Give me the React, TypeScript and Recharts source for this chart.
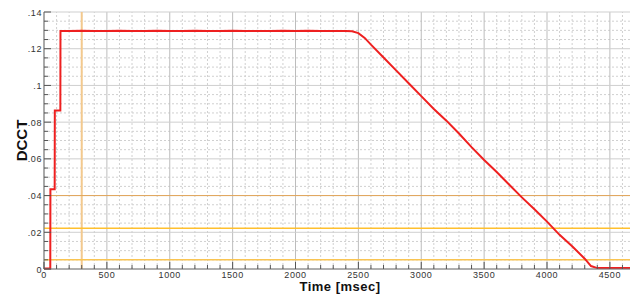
import { LineChart, Line, XAxis, YAxis, ReferenceLine } from 'recharts';

// DCCT trace (time in msec)
const timeMs = [
  0, 50, 51, 85, 86, 130, 131, 200, 300, 400, 500, 600, 700, 800, 900, 1000,
  1100, 1200, 1300, 1400, 1500, 1600, 1700, 1800, 1900, 2000, 2100, 2200, 2300,
  2400, 2450, 2500, 2550, 2600, 2700, 2800, 2900, 3000, 3100, 3200, 3300, 3400,
  3500, 3600, 3700, 3800, 3900, 4000, 4100, 4200, 4300, 4350, 4400, 4500, 4600, 4660,
];
const dcct = [
  0.0003, 0.0003, 0.0434, 0.0434, 0.0863, 0.0863, 0.1297, 0.1296, 0.1298, 0.1296,
  0.1297, 0.1298, 0.1296, 0.1297, 0.1298, 0.1296, 0.1297, 0.1298, 0.1297, 0.1296,
  0.1298, 0.1297, 0.1296, 0.1297, 0.1298, 0.1297, 0.1298, 0.1296, 0.1297, 0.1297,
  0.1295, 0.1285, 0.1259, 0.1222, 0.1152, 0.1082, 0.1012, 0.0942, 0.0872, 0.0808,
  0.0738, 0.0664, 0.0594, 0.0528, 0.0459, 0.039, 0.0325, 0.0258, 0.0186, 0.0124,
  0.0056, 0.0016, 0.0005, 0.0005, 0.0006, 0.0005,
];

const xMajorTicks = [0, 500, 1000, 1500, 2000, 2500, 3000, 3500, 4000, 4500];
const yMajorTicks = [0, 0.02, 0.04, 0.06, 0.08, 0.1, 0.12, 0.14];
const yTickLabels = ['0', '.02', '.04', '.06', '.08', '.1', '.12', '.14'];

// orange marker lines
const markerTimes = [300];
const markerLevels = [0.04, 0.0222, 0.005];
const markerColors = ['#e3a65a', '#ffc02e', '#f9c452'];

const X_MAX = 4660;
const xMinorTicks = Array.from({ length: 47 }, (_, i) => i * 100);
const yMinorTicks = Array.from({ length: 29 }, (_, i) => +(i * 0.005).toFixed(3));

const data = timeMs.map((t, i) => ({ t, v: dcct[i] }));

const FONT = 'Liberation Sans, Arial, sans-serif';
const tickFont = { fontFamily: FONT, fontSize: 9, fill: '#333', letterSpacing: 0.6 };
const isMajorX = (v: number) => v % 500 === 0;
const isMajorY = (v: number) => yMajorTicks.some((m) => Math.abs(m - v) < 1e-6);

const BottomTick = ({ x, y, payload }: any) => {
  const major = isMajorX(payload.value);
  return (
    <g>
      <line x1={x} x2={x} y1={y} y2={y - (major ? 7 : 4)} stroke="#555" />
      {major && (
        <text x={x} y={y + 8.5} textAnchor="middle" {...tickFont}>
          {payload.value}
        </text>
      )}
    </g>
  );
};

const TopTick = ({ x, y, payload }: any) => (
  <line x1={x} x2={x} y1={y} y2={y + (isMajorX(payload.value) ? 7 : 4)} stroke="#555" />
);

const LeftTick = ({ x, y, payload }: any) => {
  const major = isMajorY(payload.value);
  const idx = yMajorTicks.findIndex((m) => Math.abs(m - payload.value) < 1e-6);
  return (
    <g>
      <line x1={x} x2={x + (major ? 7 : 4)} y1={y} y2={y} stroke="#555" />
      {major && (
        <text x={x - 2} y={y + 3.5} textAnchor="end" {...tickFont}>
          {yTickLabels[idx]}
        </text>
      )}
    </g>
  );
};

const RightTick = ({ x, y, payload }: any) => (
  <line x1={x} x2={x - (isMajorY(payload.value) ? 8 : 4)} y1={y} y2={y} stroke="#555" />
);

const TimeLabel = ({ viewBox }: any) => (
  <text
    x={viewBox.x + viewBox.width / 2 + 3}
    y={viewBox.y + 21.5}
    textAnchor="middle"
    fontFamily={FONT}
    fontSize={13}
    fontWeight="bold"
    letterSpacing={0.5}
    fill="#111"
  >
    Time [msec]
  </text>
);

export default function App() {
  return (
    <div style={{ position: 'absolute', left: 0, top: 0, background: '#fff' }}>
      <LineChart width={630} height={294} data={data} margin={{ top: 12, right: 0, bottom: 0, left: 0 }}>
        {/* minor dotted grid */}
        {xMinorTicks.filter((v) => !isMajorX(v)).map((v) => (
          <ReferenceLine key={`mx${v}`} x={v} stroke="#d0d0d0" strokeDasharray="2 2" />
        ))}
        {yMinorTicks.filter((v) => !isMajorY(v)).map((v) => (
          <ReferenceLine key={`my${v}`} y={v} stroke="#d0d0d0" strokeDasharray="2 2" />
        ))}
        {/* major grid */}
        {xMajorTicks.map((v) => (
          <ReferenceLine key={`Mx${v}`} x={v} stroke="#bdbdbd" />
        ))}
        {yMajorTicks.map((v) => (
          <ReferenceLine key={`My${v}`} y={v} stroke="#cfcfcf" />
        ))}
        {markerTimes.map((t) => (
          <ReferenceLine key={`ot${t}`} x={t} stroke="#f3c98e" strokeWidth={2} />
        ))}
        {markerLevels.map((lv, i) => (
          <ReferenceLine key={`ol${lv}`} y={lv} stroke={markerColors[i]} strokeWidth={i === 0 ? 1 : 1.5} />
        ))}

        <XAxis
          dataKey="t"
          type="number"
          domain={[0, X_MAX]}
          ticks={xMinorTicks}
          interval={0}
          height={25}
          tickSize={0}
          tickMargin={0}
          tick={<BottomTick />}
          axisLine={{ stroke: '#777' }}
          allowDataOverflow
          label={{ content: <TimeLabel /> }}
        />
        <XAxis
          xAxisId="top"
          orientation="top"
          dataKey="t"
          type="number"
          domain={[0, X_MAX]}
          ticks={xMinorTicks}
          interval={0}
          height={0}
          tickSize={0}
          tickMargin={0}
          tick={<TopTick />}
          axisLine={{ stroke: '#777' }}
          allowDataOverflow
        />
        <YAxis
          type="number"
          domain={[0, 0.14]}
          ticks={yMinorTicks}
          interval={0}
          width={44}
          tickSize={0}
          tickMargin={0}
          tick={<LeftTick />}
          axisLine={{ stroke: '#777' }}
          label={{
            value: 'DCCT',
            angle: -90,
            position: 'center',
            style: { fontFamily: FONT, fontSize: 15, fontWeight: 'bold', fill: '#111' },
          }}
        />
        <YAxis
          yAxisId="right"
          orientation="right"
          type="number"
          domain={[0, 0.14]}
          ticks={yMinorTicks}
          interval={0}
          width={0}
          tickSize={0}
          tickMargin={0}
          tick={<RightTick />}
          axisLine={{ stroke: '#777' }}
        />

        <Line
          type="linear"
          dataKey="v"
          stroke="#ee2020"
          strokeWidth={2}
          dot={false}
          isAnimationActive={false}
        />
      </LineChart>
    </div>
  );
}
